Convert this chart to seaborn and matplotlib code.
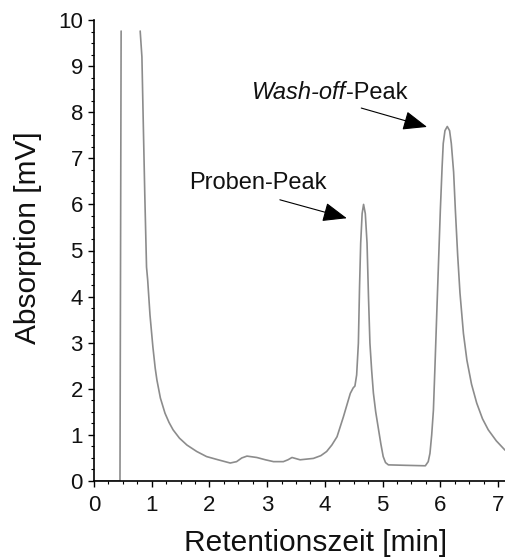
import matplotlib
matplotlib.use("Agg")
import matplotlib.pyplot as plt
from matplotlib.ticker import AutoMinorLocator
import pandas as pd
import seaborn as sns

# Chromatogram trace: retention time [min] and absorption [mV]
# Segment 1: injection spike (detector saturates at the top)
time_inj = [0.00, 0.45, 0.47]
abs_inj = [0.00, 0.00, 9.76]

# Segment 2: solvent front decay, sample peak and wash-off peak
time_main = [0.80, 0.83, 0.85, 0.88, 0.91, 0.93, 0.97, 1.02, 1.06, 1.09, 1.15,
             1.23, 1.30, 1.37, 1.48, 1.61, 1.78, 1.95, 2.15, 2.36, 2.47, 2.56,
             2.65, 2.82, 2.97, 3.11, 3.28, 3.36, 3.43, 3.57, 3.80, 3.93, 4.03,
             4.12, 4.21, 4.32, 4.44, 4.49, 4.52, 4.55, 4.58, 4.60, 4.62, 4.645,
             4.67, 4.70, 4.73, 4.755, 4.78, 4.81, 4.84, 4.88, 4.93, 4.97, 5.01,
             5.05, 5.10, 5.40, 5.74, 5.79, 5.82, 5.85, 5.88, 5.91, 5.94, 5.97,
             6.00, 6.03, 6.05, 6.08, 6.12, 6.16, 6.19, 6.23, 6.26, 6.30, 6.34,
             6.40, 6.46, 6.54, 6.63, 6.73, 6.83, 6.97, 7.12]
abs_main = [9.76, 9.20, 7.98, 6.20, 4.64, 4.36, 3.60, 2.91, 2.45, 2.19, 1.80,
            1.47, 1.27, 1.11, 0.93, 0.78, 0.64, 0.53, 0.46, 0.39, 0.42, 0.50,
            0.54, 0.51, 0.46, 0.42, 0.42, 0.46, 0.51, 0.46, 0.49, 0.55, 0.64,
            0.78, 0.96, 1.39, 1.90, 2.02, 2.06, 2.30, 2.99, 4.20, 5.16, 5.80,
            6.00, 5.80, 5.16, 4.00, 2.99, 2.40, 1.91, 1.50, 1.11, 0.80, 0.53,
            0.40, 0.35, 0.34, 0.33, 0.42, 0.60, 1.00, 1.54, 2.60, 3.71, 4.80,
            5.88, 6.80, 7.32, 7.60, 7.69, 7.60, 7.32, 6.70, 5.88, 4.90, 4.08,
            3.20, 2.62, 2.10, 1.69, 1.35, 1.11, 0.87, 0.67]

x_ticks = [0, 1, 2, 3, 4, 5, 6, 7]
y_ticks = [0, 1, 2, 3, 4, 5, 6, 7, 8, 9, 10]

df = pd.concat([
    pd.DataFrame({"t": time_inj, "a": abs_inj, "seg": "inj"}),
    pd.DataFrame({"t": time_main, "a": abs_main, "seg": "main"}),
], ignore_index=True)

sns.set_style("ticks")
plt.rcParams["font.family"] = ["Liberation Sans", "DejaVu Sans"]

fig = plt.figure(figsize=(5.05, 5.59), dpi=100)
ax = fig.add_axes([94 / 505, 1 - 481 / 559, 411 / 505, 461 / 559])

sns.lineplot(data=df, x="t", y="a", units="seg", estimator=None, sort=False,
             color="#8c8c8c", lw=1.2, ax=ax, legend=False)

ax.set_xlim(0, 7.12)
ax.set_ylim(0, 10)
ax.set_xticks(x_ticks)
ax.set_yticks(y_ticks)
ax.xaxis.set_minor_locator(AutoMinorLocator(4))
ax.yaxis.set_minor_locator(AutoMinorLocator(4))
ax.tick_params(which="major", direction="out", length=4, width=1.0,
               labelsize=16, color="black", labelcolor="#111111")
ax.tick_params(axis="x", which="major", pad=6)
ax.tick_params(axis="y", which="major", pad=4)
ax.tick_params(which="minor", direction="out", length=2, width=0.8, color="black")

for side in ("top", "right"):
    ax.spines[side].set_visible(False)
for side in ("left", "bottom"):
    ax.spines[side].set_linewidth(1.2)
    ax.spines[side].set_color("black")

ax.set_xlabel("Retentionszeit [min]", fontsize=21.5, color="#111111")
ax.set_ylabel("Absorption [mV]", fontsize=21.5, color="#111111")
ax.xaxis.set_label_coords(0.540, -0.134)
ax.xaxis.label.set_va("center")
ax.yaxis.set_label_coords(-0.161, 0.527)
ax.yaxis.label.set_va("center")

arrow_kw = dict(arrowstyle="-|>,head_length=0.75,head_width=0.3",
                color="black", lw=0.8, shrinkA=0, shrinkB=0, mutation_scale=20)

# Sample peak label
ax.text(1.65, 6.33, "Proben-Peak", fontsize=17, ha="left", va="baseline",
        color="#111111")
ax.annotate("", xy=(4.38, 5.70), xytext=(3.22, 6.10), arrowprops=arrow_kw)

# Wash-off peak label (italic term followed by regular suffix)
t1 = ax.text(2.74, 8.29, "Wash-off", fontsize=17, style="italic",
             ha="left", va="baseline", color="#111111")
ax.annotate("-Peak", xy=(1, 0), xycoords=t1, fontsize=17, ha="left",
            va="bottom", color="#111111")
ax.annotate("", xy=(5.77, 7.68), xytext=(4.63, 8.09), arrowprops=arrow_kw)

fig.savefig("out.png", dpi=100)
